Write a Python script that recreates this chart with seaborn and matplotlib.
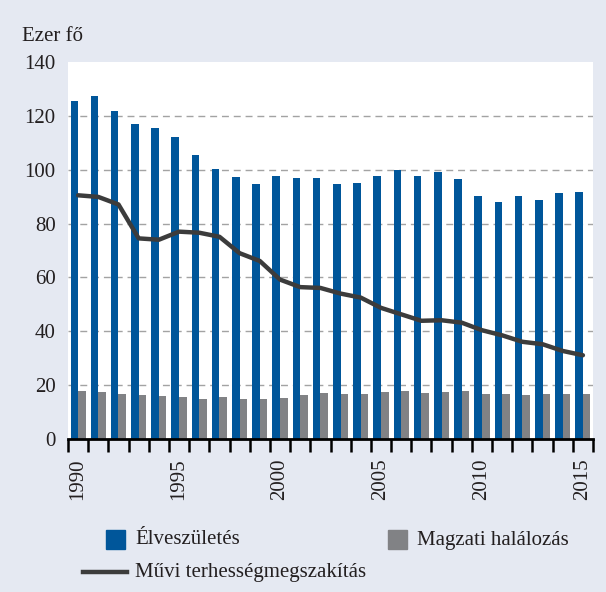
import seaborn as sns
import matplotlib.pyplot as plt
import matplotlib.patches as mpatches
import matplotlib.lines as mlines
import pandas as pd
import numpy as np

years = list(range(1990, 2016))
# thousand persons
elveszuletes = [125.7, 127.2, 121.7, 117.0, 115.6, 112.1, 105.3, 100.4, 97.3, 94.6,
                97.6, 97.0, 96.8, 94.6, 95.1, 97.5, 99.9, 97.6, 99.1, 96.4,
                90.3, 88.0, 90.3, 88.7, 91.5, 91.7]
magzati = [18.0, 17.6, 16.6, 16.3, 16.0, 15.6, 15.0, 15.6, 15.0, 14.8,
           15.2, 16.3, 16.9, 16.8, 16.8, 17.4, 18.0, 17.2, 17.6, 17.7,
           16.8, 16.8, 16.3, 16.8, 16.8, 16.7]
muvi = [90.5, 89.9, 87.1, 74.5, 74.0, 77.0, 76.6, 75.1, 69.0, 66.1,
        59.2, 56.4, 56.1, 54.0, 52.5, 48.7, 46.3, 43.9, 44.1, 43.2,
        40.4, 38.5, 36.1, 35.2, 32.7, 31.1]
labels = ['Élveszületés', 'Magzati halálozás', 'Művi terhességmegszakítás']

bg = '#e5e9f2'
blue = '#00569a'
gray = '#818285'
dark = '#3c3c3c'
txt = '#231f20'
fs = 15

df = pd.DataFrame({'Év': years, labels[0]: elveszuletes, labels[1]: magzati})
df_long = df.melt(id_vars='Év', var_name='Sorozat', value_name='Érték')

plt.rcParams['font.family'] = ['Liberation Serif', 'DejaVu Serif']
plt.rcParams['text.color'] = txt

fig = plt.figure(figsize=(6.06, 5.92), dpi=100, facecolor=bg)
ax = fig.add_axes([68 / 606, 1 - 439 / 592, (593 - 68) / 606, (439 - 62) / 592])
ax.set_facecolor('white')

sns.barplot(data=df_long, x='Év', y='Érték', hue='Sorozat', palette=[blue, gray],
            width=0.75, saturation=1, legend=False, ax=ax, zorder=3)
sns.lineplot(x=np.arange(len(years)), y=muvi, color=dark, linewidth=3.2,
             ax=ax, zorder=4, solid_capstyle='round', solid_joinstyle='round')

ax.set_ylim(0, 140)
ax.set_xlim(-0.5, len(years) - 0.5)
ax.set_yticks(range(0, 141, 20))
ax.tick_params(axis='y', length=0, labelsize=fs, pad=9, labelcolor=txt)
for v in range(20, 121, 20):
    ax.axhline(v, color='#a3a3a3', linewidth=1.0, linestyle=(0, (5, 3.5)), zorder=1)

ax.set_xticks(range(0, len(years), 5))
ax.set_xticklabels([str(y) for y in years[::5]], rotation=90)
ax.set_xticks(np.arange(-0.5, len(years)), minor=True)
ax.tick_params(axis='x', which='major', length=0, pad=14, labelsize=fs, labelcolor=txt)
ax.tick_params(axis='x', which='minor', length=9.5, width=1.8, color='black')
ax.set_xlabel('')
ax.set_ylabel('')

for s in ['top', 'left', 'right']:
    ax.spines[s].set_visible(False)
ax.spines['bottom'].set_linewidth(2)
ax.spines['bottom'].set_color('black')
ax.spines['bottom'].set_zorder(5)

fig.text(22 / 606, 1 - 41 / 592, 'Ezer fő', fontsize=fs, color=txt, va='baseline')

# legend
def px(x, y):
    return x / 606, 1 - y / 592

fig.patches.append(mpatches.Rectangle(px(106, 549), 19 / 606, 19 / 592, color=blue,
                                      transform=fig.transFigure))
fig.text(*px(135, 540), labels[0], fontsize=fs, va='center', color=txt)
fig.patches.append(mpatches.Rectangle(px(388, 549), 19 / 606, 19 / 592, color=gray,
                                      transform=fig.transFigure))
fig.text(*px(417, 540), labels[1], fontsize=fs, va='center', color=txt)
fig.lines.append(mlines.Line2D([83 / 606, 127 / 606], [1 - 572 / 592] * 2, color=dark,
                               linewidth=3.2, transform=fig.transFigure))
fig.text(*px(135, 572), labels[2], fontsize=fs, va='center', color=txt)

fig.savefig('out.png', dpi=100, facecolor=bg)
